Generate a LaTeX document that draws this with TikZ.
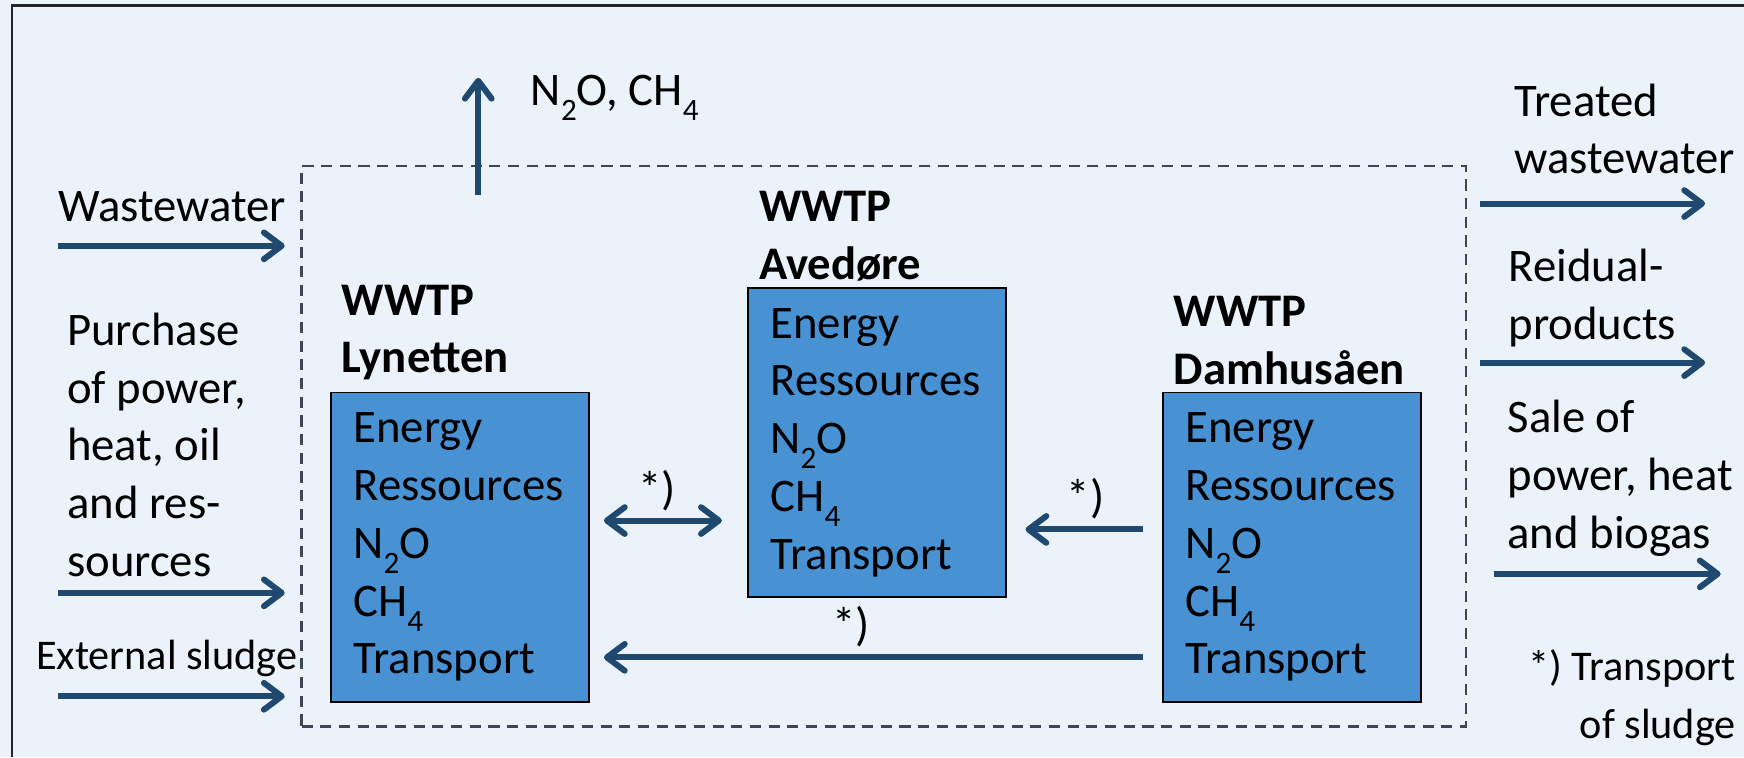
\documentclass[tikz,border=0pt]{standalone}
\usepackage{fontspec}
\setmainfont{Carlito}
\usetikzlibrary{arrows.meta}
\definecolor{bg}{RGB}{235,242,250}
\definecolor{boxblue}{RGB}{72,145,211}
\definecolor{arrowblue}{RGB}{31,73,110}
\definecolor{dashgray}{RGB}{60,70,85}
\newcommand\lowsub[1]{\raisebox{-0.32em}{\fontsize{14}{14}\selectfont #1}}
\begin{document}
\begin{tikzpicture}[x=0.5pt,y=-0.5pt,
  txt/.style={font=\fontsize{21}{26}\selectfont, inner sep=0pt, align=left, anchor=west},
  smalltxt/.style={font=\fontsize{19}{26}\selectfont, inner sep=0pt},
  ttl/.style={font=\fontsize{21}{26}\selectfont\bfseries, inner sep=0pt, align=left, anchor=west},
  plant/.style={draw=black, line width=0.8pt, fill=boxblue, minimum width=116pt,
    minimum height=139pt, text width=96pt, inner xsep=10pt, inner ysep=0pt, align=left,
    font=\fontsize{21}{26}\selectfont, anchor=north west},
  tip/.tip={Straight Barb[length=8pt,width=12pt,round]},
  flow/.style={draw=arrowblue, line width=2.7pt, -tip},
  bothflow/.style={draw=arrowblue, line width=2.7pt, tip-tip},
  sysbound/.style={draw=dashgray, line width=1.1pt, dash pattern=on 5pt off 3.4pt}
]
\fill[bg] (0,0) rectangle (1568,681);
\useasboundingbox (0,0) rectangle (1568,681);
\draw[line width=1pt, black!85] (11,681) -- (11,5) -- (1568,5);

% system boundary
\node[sysbound, minimum width=523.5pt, minimum height=252pt, inner sep=0pt, anchor=north west] (sys) at (270,148) {};

% plants
\node[plant] (ly) at (297,352) {Energy\\Ressources\\N\lowsub{2}O\\CH\lowsub{4}\\Transport};
\node[plant] (av) at (672,258) {Energy\\Ressources\\N\lowsub{2}O\\CH\lowsub{4}\\Transport};
\node[plant] (da) at (1045,352) {Energy\\Ressources\\N\lowsub{2}O\\CH\lowsub{4}\\Transport};

\node[ttl] (lyt) at (307,299) {WWTP\\Lynetten};
\node[ttl] (avt) at (682,212) {WWTP\\Avedøre};
\node[ttl] (dat) at (1055,306) {WWTP\\Damhusåen};

% emissions
\coordinate (upbot) at (430,175);
\coordinate (uptop) at (430,70);
\draw[flow] (upbot) -- (uptop);
\node[txt] (em) at (477,88) {N\lowsub{2}O, CH\lowsub{4}};

% inputs
\node[txt] (ww) at (52,186) {Wastewater};
\coordinate (wwa) at (52,221); \coordinate (wwb) at (256,221);
\draw[flow] (wwa) -- (wwb);

\node[txt] (pur) at (60,400) {Purchase\\of power,\\heat, oil\\and res-\\sources};
\coordinate (pua) at (52,533); \coordinate (pub) at (256,533);
\draw[flow] (pua) -- (pub);

\node[smalltxt, anchor=west] (ext) at (32,592) {External sludge};
\coordinate (exa) at (52,626); \coordinate (exb) at (256,626);
\draw[flow] (exa) -- (exb);

% sludge transports
\coordinate (d1a) at (543,468); \coordinate (d1b) at (649,468);
\draw[bothflow] (d1a) -- (d1b);
\node[txt, anchor=center] (s1) at (591,441) {*)};

\coordinate (d2a) at (1028,476); \coordinate (d2b) at (922,476);
\draw[flow] (d2a) -- (d2b);
\node[txt, anchor=center] (s2) at (976,448) {*)};

\coordinate (d3a) at (1028,591); \coordinate (d3b) at (543,591);
\draw[flow] (d3a) -- (d3b);
\node[txt, anchor=center] (s3) at (765,563) {*)};

% outputs
\node[txt] (tw) at (1361,116) {Treated\\wastewater};
\coordinate (twa) at (1331,183); \coordinate (twb) at (1533,183);
\draw[flow] (twa) -- (twb);

\node[txt] (rp) at (1356,268) {Reidual-\\products};
\coordinate (rpa) at (1331,326); \coordinate (rpb) at (1533,326);
\draw[flow] (rpa) -- (rpb);

\node[txt] (sl) at (1355,430) {Sale of\\power, heat\\and biogas};
\coordinate (sla) at (1343,516); \coordinate (slb) at (1547,516);
\draw[flow] (sla) -- (slb);

\node[smalltxt, align=right, anchor=east] (note) at (1561,627) {*) Transport\\of sludge};
\end{tikzpicture}
\end{document}
